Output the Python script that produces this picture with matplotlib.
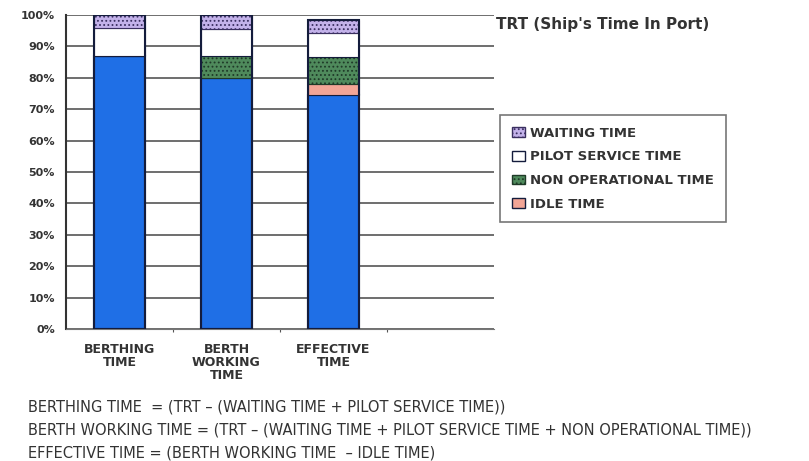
import numpy as np
import matplotlib.pyplot as plt

categories = ['BERTHING\nTIME', 'BERTH\nWORKING\nTIME', 'EFFECTIVE\nTIME']
series_names = ['WAITING TIME', 'PILOT SERVICE TIME', 'NON OPERATIONAL TIME', 'IDLE TIME']
# stacked from bottom: base, idle, non operational, pilot service, waiting
base_time = [87, 80, 74.5]
idle_time = [0, 0, 3.7]
non_op_time = [0, 7, 8.4]
pilot_time = [9, 8.6, 7.7]
waiting_time = [4, 4.4, 4.1]
y_ticks = [0, 10, 20, 30, 40, 50, 60, 70, 80, 90, 100]

notes = [
    'BERTHING TIME  = (TRT \u2013 (WAITING TIME + PILOT SERVICE TIME))',
    'BERTH WORKING TIME = (TRT \u2013 (WAITING TIME + PILOT SERVICE TIME + NON OPERATIONAL TIME))',
    'EFFECTIVE TIME = (BERTH WORKING TIME  \u2013 IDLE TIME)',
]

fig = plt.figure(figsize=(8.09, 4.61), dpi=100)
ax = fig.add_axes([0.0816, 0.2863, 0.529, 0.681])

x = np.arange(len(categories))
w = 0.47
edge = '#141c3c'
plt.rcParams['hatch.linewidth'] = 0.8

bottom = np.zeros(len(categories))
ax.bar(x, base_time, w, bottom=bottom, color='#1f6fe6', edgecolor=edge, linewidth=1.5, zorder=3)
bottom += base_time
ax.bar(x, idle_time, w, bottom=bottom, color='#f2a596', edgecolor=edge, linewidth=0.8, zorder=3)
bottom += idle_time
ax.bar(x, non_op_time, w, bottom=bottom, color='#4f8a5c', edgecolor='#1f3a28', hatch='....',
       linewidth=0.8, zorder=3)
bottom += non_op_time
ax.bar(x, pilot_time, w, bottom=bottom, color='white', edgecolor=edge, linewidth=0.8, zorder=3)
bottom += pilot_time
ax.bar(x, waiting_time, w, bottom=bottom, color='#c3b2ea', edgecolor='#3a2f60', hatch='....',
       linewidth=0.8, zorder=3)

# outline of each bar
totals = bottom + np.array(waiting_time)
ax.bar(x, totals, w, color='none', edgecolor=edge, linewidth=1.5, zorder=4)

ax.set_xlim(-0.5, 3.5)
ax.set_ylim(0, 100)
ax.set_yticks(y_ticks)
ax.set_yticklabels([f'{t}%' for t in y_ticks], fontsize=8, fontweight='bold', color='#333333')
ax.set_xticks([0.5, 1.5, 2.5], minor=False)
ax.set_xticklabels([])
ax.tick_params(axis='x', length=2, color='#555555')
ax.tick_params(axis='y', length=0, pad=8)
for xi, lab in zip(x, categories):
    ax.text(xi, -4.3, lab, ha='center', va='top', fontsize=9, fontweight='bold',
            color='#333333', linespacing=1.0)

ax.yaxis.grid(True, color='#555555', linewidth=1.2, zorder=0)
for s in ['top', 'right']:
    ax.spines[s].set_visible(False)
ax.spines['left'].set_color('#333333')
ax.spines['left'].set_linewidth(1.5)
ax.spines['bottom'].set_color('#777777')

fig.text(496 / 809, 1 - 25 / 461, "TRT (Ship's Time In Port)", fontsize=11, fontweight='bold',
         color='#333333', ha='left', va='center')

handles = [
    plt.Rectangle((0, 0), 1, 1, facecolor='#c3b2ea', edgecolor='#3a2f60', hatch='....'),
    plt.Rectangle((0, 0), 1, 1, facecolor='white', edgecolor=edge),
    plt.Rectangle((0, 0), 1, 1, facecolor='#4f8a5c', edgecolor='#1f3a28', hatch='....'),
    plt.Rectangle((0, 0), 1, 1, facecolor='#f2a596', edgecolor=edge),
]
leg = fig.legend(handles, series_names, loc='upper left',
                 bbox_to_anchor=(500 / 809, 1 - 115 / 461), prop={'size': 9.5, 'weight': 'bold'},
                 frameon=True, fancybox=False, edgecolor='#555555', handlelength=1.0,
                 handleheight=0.75, handletextpad=0.4, labelspacing=0.8, borderpad=0.9,
                 borderaxespad=0)
leg.get_frame().set_linewidth(1.2)
for t in leg.get_texts():
    t.set_color('#333333')

for i, line in enumerate(notes):
    fig.text(28 / 809, 1 - (407 + i * 23) / 461, line, fontsize=10.5, color='#333333',
             ha='left', va='center')

fig.savefig('out.png', dpi=100)
